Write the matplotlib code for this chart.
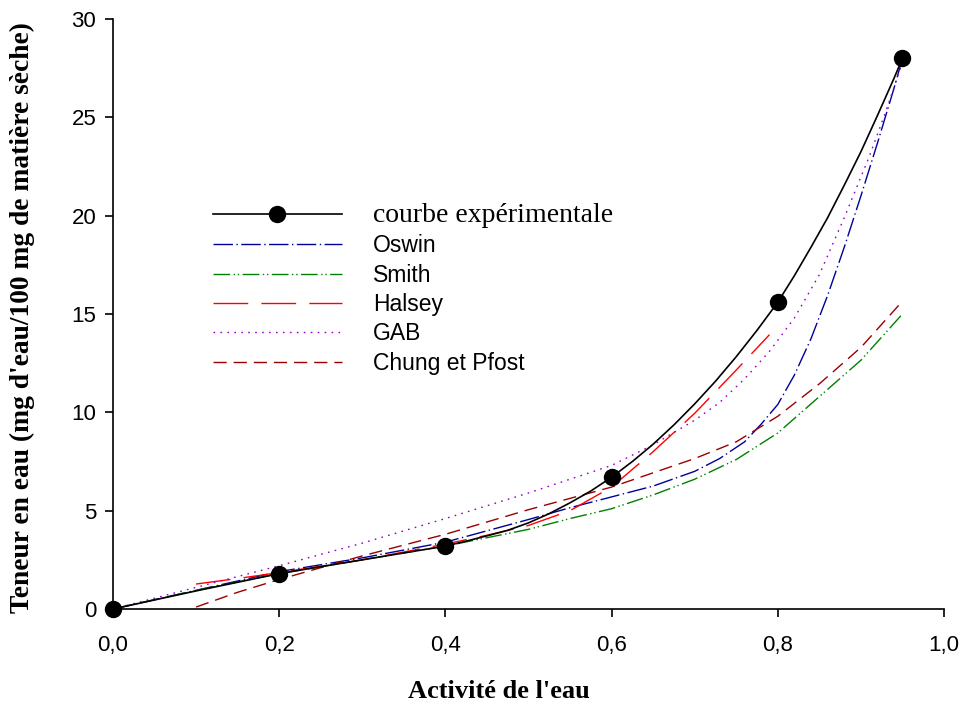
import matplotlib
matplotlib.use("Agg")
import matplotlib.pyplot as plt

plt.rcParams["lines.scale_dashes"] = False

# experimental points
aw_pts = [0.0, 0.2, 0.4, 0.6, 0.8, 0.95]
x_pts = [0.0, 1.8, 3.2, 6.7, 15.6, 28.0]

aw_exp = [0.0, 0.1, 0.2, 0.3, 0.4, 0.425, 0.45, 0.475, 0.5, 0.525, 0.55, 0.575, 0.6,
          0.625, 0.65, 0.675, 0.7, 0.725, 0.75, 0.775, 0.8, 0.82, 0.84, 0.86, 0.88,
          0.9, 0.92, 0.94, 0.95]
x_exp = [0.0, 0.92, 1.8, 2.5, 3.2, 3.45, 3.72, 4.0, 4.38, 4.85, 5.4, 6.0, 6.7,
         7.5, 8.38, 9.36, 10.43, 11.58, 12.83, 14.17, 15.6, 16.95, 18.4, 19.9, 21.55,
         23.25, 25.1, 27.0, 28.0]

aw_oswin = [0.0, 0.1, 0.2, 0.3, 0.4, 0.5, 0.55, 0.6, 0.65, 0.7, 0.73, 0.76, 0.78, 0.8,
            0.82, 0.84, 0.86, 0.88, 0.9, 0.92, 0.94, 0.95]
x_oswin = [0.0, 0.95, 1.9, 2.6, 3.4, 4.55, 5.15, 5.7, 6.25, 7.0, 7.65, 8.5, 9.4, 10.4,
           11.9, 13.75, 15.95, 18.4, 21.0, 23.7, 26.5, 28.0]

aw_smith = [0.0, 0.1, 0.2, 0.3, 0.4, 0.5, 0.55, 0.6, 0.65, 0.7, 0.75, 0.8, 0.85, 0.9, 0.95]
x_smith = [0.0, 0.95, 1.8, 2.5, 3.2, 4.05, 4.6, 5.1, 5.8, 6.6, 7.6, 8.95, 10.8, 12.65, 15.0]

aw_halsey = [0.1, 0.15, 0.2, 0.3, 0.4, 0.45, 0.5, 0.55, 0.6, 0.65, 0.7, 0.75, 0.79]
x_halsey = [1.27, 1.55, 1.85, 2.5, 3.3, 3.75, 4.25, 5.0, 6.2, 8.0, 9.95, 12.15, 13.95]

aw_gab = [0.0, 0.1, 0.2, 0.3, 0.4, 0.5, 0.6, 0.65, 0.7, 0.73, 0.76, 0.79, 0.82, 0.85,
          0.88, 0.91, 0.93, 0.95]
x_gab = [0.0, 1.1, 2.2, 3.35, 4.6, 5.9, 7.3, 8.35, 9.6, 10.5, 11.7, 13.1, 14.8, 17.0,
         19.9, 23.0, 25.3, 27.8]

aw_chung = [0.1, 0.15, 0.2, 0.3, 0.4, 0.5, 0.6, 0.7, 0.75, 0.8, 0.85, 0.9, 0.95]
x_chung = [0.1, 0.85, 1.5, 2.7, 3.8, 5.05, 6.2, 7.65, 8.5, 9.8, 11.45, 13.3, 15.65]

xticks = [0.0, 0.2, 0.4, 0.6, 0.8, 1.0]
xtick_labels = ["0,0", "0,2", "0,4", "0,6", "0,8", "1,0"]
yticks = [0, 5, 10, 15, 20, 25, 30]

fig = plt.figure(figsize=(9.64, 7.07), dpi=100)
ax = fig.add_axes([113 / 964, 98 / 707, 831 / 964, 590 / 707])

# experimental curve: line and markers, plus a proxy handle for the legend
ax.plot(aw_exp, x_exp, color="black", lw=1.2, zorder=5)
ax.plot(aw_pts, x_pts, "o", color="black", ms=11.5, zorder=6, clip_on=False)
h_exp, = ax.plot([], [], "-o", color="black", lw=1.2, ms=11.5)

h_osw, = ax.plot(aw_oswin, x_oswin, color="#000099", lw=1.0, dashes=(14, 2.5, 1, 2.5))
h_smi, = ax.plot(aw_smith, x_smith, color="#008000", lw=1.0, dashes=(12, 2.5, 1, 2, 1, 2.5))
h_hal, = ax.plot(aw_halsey, x_halsey, color="#FF0000", lw=1.0, dashes=(25, 9.5))
h_gab, = ax.plot(aw_gab, x_gab, color="#9900CC", lw=1.0, dashes=(1.2, 3.8))
h_chu, = ax.plot(aw_chung, x_chung, color="#990000", lw=1.0, dashes=(9.5, 5))

ax.set_xlim(0, 1.0)
ax.set_ylim(0, 30)
ax.set_xticks(xticks)
ax.set_xticklabels(xtick_labels)
ax.set_yticks(yticks)

for s in ["top", "right"]:
    ax.spines[s].set_visible(False)
for s in ["left", "bottom"]:
    ax.spines[s].set_linewidth(1.2)

ax.tick_params(axis="both", direction="out", length=6, width=1.2,
               labelsize=16, labelfontfamily="Liberation Sans")
ax.tick_params(axis="x", pad=13)
ax.tick_params(axis="y", pad=6)

ax.set_xlabel("Activité de l'eau", family="Liberation Serif", fontweight="bold", fontsize=19)
ax.set_ylabel("Teneur en eau (mg d'eau/100 mg de matière sèche)",
              family="Liberation Serif", fontweight="bold", fontsize=19.8)
ax.xaxis.set_label_coords(0.464, -0.12)
ax.yaxis.set_label_coords(-0.094, 0.494)

leg = ax.legend(
    [h_exp, h_osw, h_smi, h_hal, h_gab, h_chu],
    ["courbe expérimentale", "Oswin", "Smith", "Halsey", "GAB", "Chung et Pfost"],
    loc="upper left",
    bbox_to_anchor=(0.12, 0.6885),
    frameon=False,
    prop={"family": "Liberation Sans", "size": 16.5},
    handlelength=5.65,
    handletextpad=1.35,
    labelspacing=0.28,
    borderpad=0,
    borderaxespad=0,
)
leg.get_texts()[0].set_fontfamily("Liberation Serif")
leg.get_texts()[0].set_fontsize(20)

plt.savefig("out.png", dpi=100)
